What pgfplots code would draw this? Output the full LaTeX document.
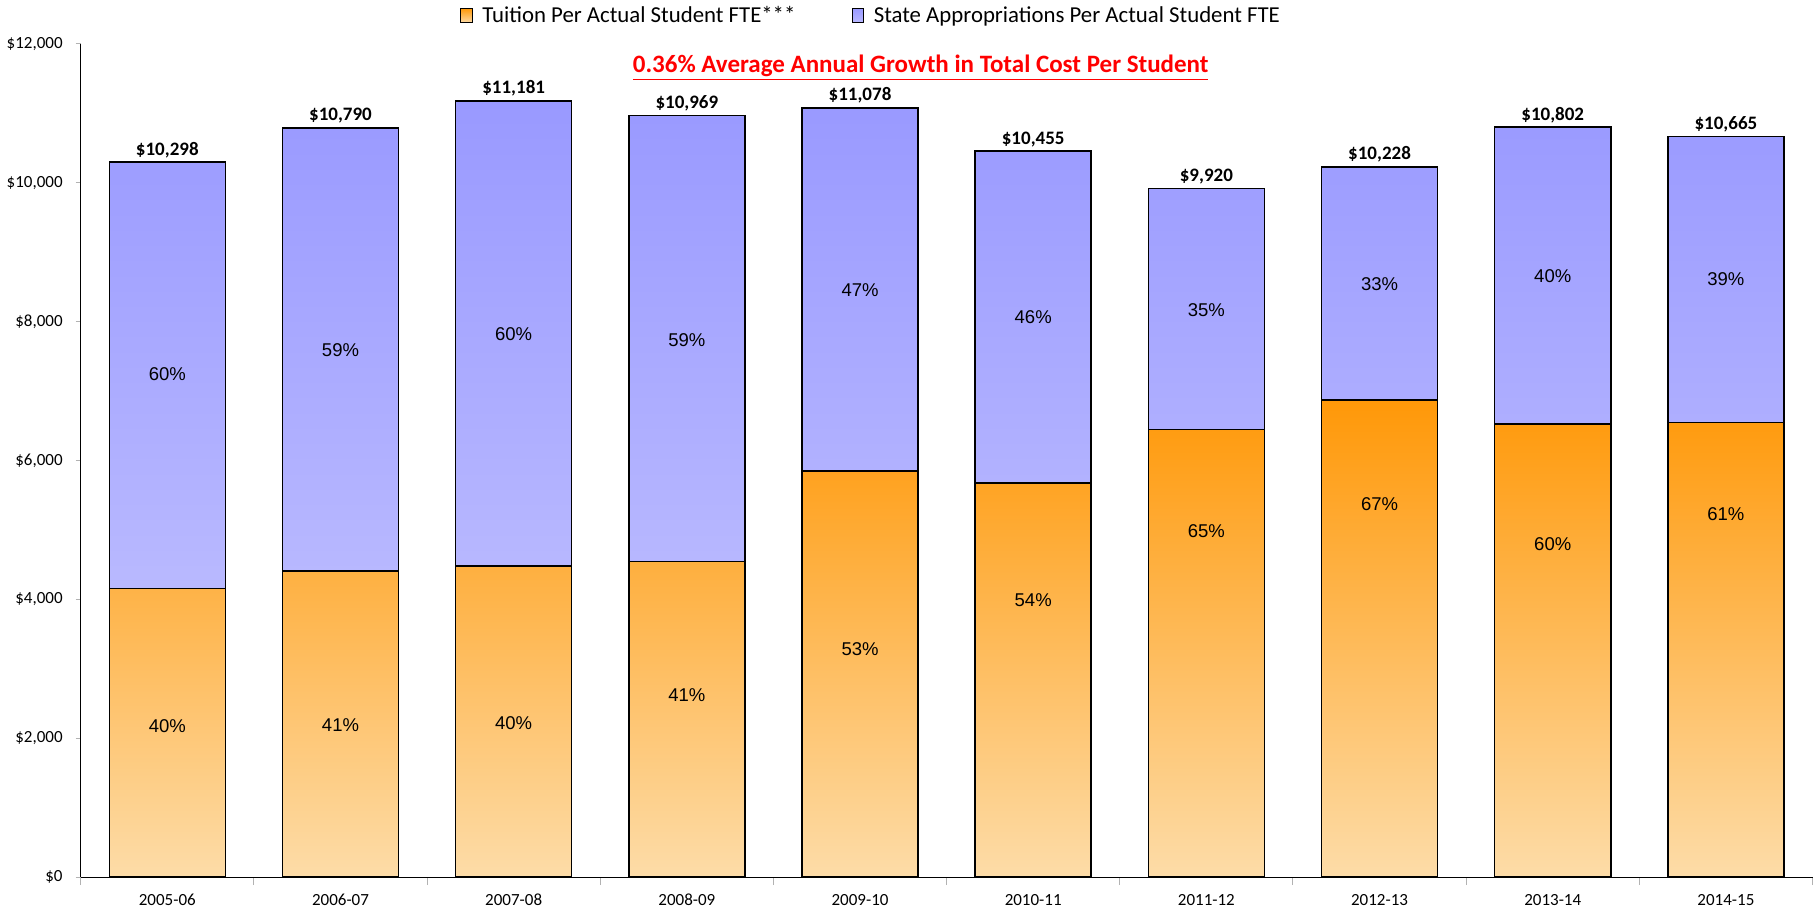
\documentclass[border=0pt]{standalone}
\usepackage{fontspec}
\setmainfont{Carlito}
\newfontfamily\arialfont{Liberation Sans}
\usepackage{pgfplots}
\pgfplotsset{compat=1.18}

\definecolor{tuitop}{HTML}{FF9808}
\definecolor{tuibot}{HTML}{FDDCA8}
\definecolor{sttop}{HTML}{9999FF}
\definecolor{stbot}{HTML}{B9B9FF}
\newcommand\pctfont{\arialfont\fontsize{9.25}{11}\selectfont}
\newcommand\totfont{\bfseries\fontsize{9.5}{11}\selectfont}

\begin{document}
\begin{tikzpicture}
\begin{axis}[
    name=main,
    scale only axis,
    width=862.5bp, height=415bp,
    ybar stacked,
    bar width=0.67,
    xmin=-0.5, xmax=9.5,
    ymin=0, ymax=12000,
    scaled y ticks=false,
    axis x line=bottom, axis y line=left,
    axis line style={-, black, line width=0.5bp},
    xtick={0,...,9},
    xticklabels={2005-06,2006-07,2007-08,2008-09,2009-10,2010-11,2011-12,2012-13,2013-14,2014-15},
    minor xtick={-0.5,0.5,...,9.5},
    major x tick style={draw=none},
    minor x tick style={gray!60, line width=0.5bp},
    minor tick length=4bp,
    ytick={0,2000,...,12000},
    yticklabels={{\$0},{\$2,000},{\$4,000},{\$6,000},{\$8,000},{\$10,000},{\$12,000}},
    y tick style={gray!60, line width=0.5bp},
    major tick length=2.5bp,
    tick align=outside,
    ticklabel style={font=\fontsize{8.5}{10}\selectfont},
    yticklabel style={xshift=-3bp},
    xticklabel style={inner sep=0pt, yshift=-5.8bp},
    clip=false,
    legend style={draw=none, at={(0.457,1.034)}, anchor=center,
        legend columns=2, font=\fontsize{11.4}{13}\selectfont,
        /tikz/every odd column/.append style={column sep=3bp},
        /tikz/every even column/.append style={column sep=26bp},
        inner sep=1pt},
    legend image code/.code={\draw[#1,draw=black,line width=0.4bp] (0bp,-3.6bp) rectangle (5.6bp,3.6bp);},
]

% tuition per student FTE
\addplot[top color=tuitop, bottom color=tuibot, draw=black, line width=0.75bp] coordinates {
    (0,4160) (1,4410) (2,4480) (3,4545) (4,5850)
    (5,5680) (6,6450) (7,6870) (8,6530) (9,6550)
};
\addlegendentry{Tuition Per Actual Student FTE***}

% state appropriations per student FTE
\addplot[top color=sttop, bottom color=stbot, draw=black, line width=0.75bp] coordinates {
    (0,6138) (1,6380) (2,6701) (3,6424) (4,5228)
    (5,4775) (6,3470) (7,3358) (8,4272) (9,4115)
};
\addlegendentry{State Appropriations Per Actual Student FTE}

% totals
\node[font=\totfont, anchor=south, inner sep=2bp] at (axis cs:0,10298) {\$10,298};
\node[font=\totfont, anchor=south, inner sep=2bp] at (axis cs:1,10790) {\$10,790};
\node[font=\totfont, anchor=south, inner sep=2bp] at (axis cs:2,11181) {\$11,181};
\node[font=\totfont, anchor=south, inner sep=2bp] at (axis cs:3,10969) {\$10,969};
\node[font=\totfont, anchor=south, inner sep=2bp] at (axis cs:4,11078) {\$11,078};
\node[font=\totfont, anchor=south, inner sep=2bp] at (axis cs:5,10455) {\$10,455};
\node[font=\totfont, anchor=south, inner sep=2bp] at (axis cs:6,9920) {\$9,920};
\node[font=\totfont, anchor=south, inner sep=2bp] at (axis cs:7,10228) {\$10,228};
\node[font=\totfont, anchor=south, inner sep=2bp] at (axis cs:8,10802) {\$10,802};
\node[font=\totfont, anchor=south, inner sep=2bp] at (axis cs:9,10665) {\$10,665};

\node[font=\bfseries\fontsize{12.5}{14}\selectfont, text=red, anchor=base] at (rel axis cs:0.485,0.966)
    {\underline{0.36\% Average Annual Growth in Total Cost Per Student}};

\end{axis}

% overlay axis: share labels on top of the stacked bars
\begin{axis}[
    scale only axis,
    width=862.5bp, height=415bp,
    xmin=-0.5, xmax=9.5,
    ymin=0, ymax=12000,
    hide axis, clip=false,
]
\node[font=\pctfont] at (axis cs:0,2170) {40\%};
\node[font=\pctfont] at (axis cs:1,2190) {41\%};
\node[font=\pctfont] at (axis cs:2,2220) {40\%};
\node[font=\pctfont] at (axis cs:3,2620) {41\%};
\node[font=\pctfont] at (axis cs:4,3280) {53\%};
\node[font=\pctfont] at (axis cs:5,3990) {54\%};
\node[font=\pctfont] at (axis cs:6,4980) {65\%};
\node[font=\pctfont] at (axis cs:7,5370) {67\%};
\node[font=\pctfont] at (axis cs:8,4800) {60\%};
\node[font=\pctfont] at (axis cs:9,5230) {61\%};
\node[font=\pctfont] at (axis cs:0,7240) {60\%};
\node[font=\pctfont] at (axis cs:1,7590) {59\%};
\node[font=\pctfont] at (axis cs:2,7820) {60\%};
\node[font=\pctfont] at (axis cs:3,7740) {59\%};
\node[font=\pctfont] at (axis cs:4,8460) {47\%};
\node[font=\pctfont] at (axis cs:5,8060) {46\%};
\node[font=\pctfont] at (axis cs:6,8170) {35\%};
\node[font=\pctfont] at (axis cs:7,8540) {33\%};
\node[font=\pctfont] at (axis cs:8,8660) {40\%};
\node[font=\pctfont] at (axis cs:9,8610) {39\%};
\end{axis}

% room below the year labels
\path (main.south west) ++(0,-17bp);
\end{tikzpicture}
\end{document}
